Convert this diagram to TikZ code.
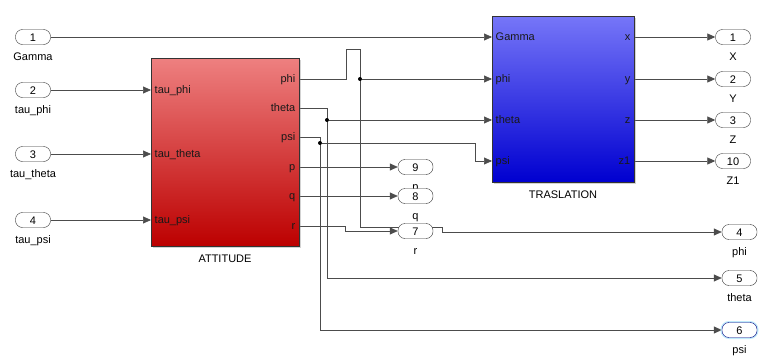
\documentclass[tikz,border=0pt]{standalone}
\usepackage{fontspec}
\setmainfont{Liberation Sans}
\usetikzlibrary{arrows.meta,backgrounds,shadows}
\definecolor{attA}{RGB}{238,128,128}
\definecolor{attB}{RGB}{222,86,86}
\definecolor{attC}{RGB}{188,0,0}
\definecolor{traA}{RGB}{118,118,248}
\definecolor{traB}{RGB}{100,100,248}
\definecolor{traC}{RGB}{0,0,208}
\begin{document}
\begin{tikzpicture}[x=1pt,y=-1pt,font=\fontsize{11}{13}\selectfont,
 port/.style={draw=black!80,fill=white,rounded corners=7pt,minimum width=35pt,minimum height=15pt,inner sep=0,text height=8pt,text depth=0pt},
 sel/.style={preaction={draw=cyan!25,line width=3pt},draw=blue!50!black},
 wire/.style={black!70,line width=0.7pt},
 arr/.style={wire,-{Triangle[length=8pt,width=7pt]}},
 dot/.style={circle,fill=black,inner sep=0,minimum size=4pt},
 blk/.style={draw=black!80,line width=0.8pt,drop shadow={shadow xshift=1.5pt,shadow yshift=-1.5pt,opacity=0.35}},
 ptxt/.style={inner sep=3.5pt,text=black!90,text height=8pt,text depth=1pt},
 every label/.style={inner sep=0,text height=8pt,text depth=2.5pt},
 label distance=7.5pt]
\useasboundingbox (0,0) rectangle (761,356);
% blocks
\node[blk,minimum width=148pt,minimum height=188pt,top color=attA,middle color=attB,bottom color=attC,label=below:ATTITUDE] (att) at (225,152) {};
\node[blk,minimum width=142pt,minimum height=166pt,top color=traA,middle color=traB,bottom color=traC,label=below:TRASLATION] (tra) at (563,99) {};
\foreach \y/\t [count=\i] in {90/tau\_phi,154/tau\_theta,220/tau\_psi} \node[ptxt,anchor=west] (ai\i) at (151,\y) {\t};
\foreach \y/\t [count=\i] in {79/phi,108/theta,137/psi,167/p,196/q,226/r} \node[ptxt,anchor=east] (ao\i) at (299,\y) {\t};
\foreach \y/\t [count=\i] in {37/Gamma,79/phi,120/theta,161/psi} \node[ptxt,anchor=west] (ti\i) at (492,\y) {\t};
\foreach \y/\t [count=\i] in {37/x,79/y,120/z,161/z1} \node[ptxt,anchor=east] (to\i) at (634,\y) {\t};
% ports
\foreach \y/\t [count=\i] in {37/Gamma,90/tau\_phi,154/tau\_theta,220/tau\_psi} \node[port,label=below:\t] (in\i) at (33,\y) {\i};
\foreach \n/\y/\t in {1/37/X,2/79/Y,3/120/Z,10/161/Z1} \node[port,label=below:\t] (out\n) at (733,\y) {\n};
\foreach \n/\y/\t in {9/167/p,8/196/q,7/231/r} \node[port,label=below:\t] (out\n) at (415.5,\y) {\n};
\foreach \n/\y/\t in {4/232/phi,5/278/theta} \node[port,label=below:\t] (out\n) at (739.5,\y) {\n};
\node[port,sel,label=below:psi] (out6) at (739.5,330) {6};
\node[dot] (j1) at (360,79) {};
\node[dot] (j2) at (327,120) {};
\node[dot] (j3) at (320,143) {};
% wires
\begin{scope}[on background layer]
\draw[arr] (in1.east) -- (ti1.west);
\foreach \i/\j in {2/1,3/2,4/3} \draw[arr] (in\i.east) -- (ai\j.west);
\draw[arr] (ao1.east) -- (346,79) |- (360,49) -- (360,227) -| (442,232) -- (out4.west);
\draw[arr] (j1) -- (ti2.west);
\draw[arr] (ao2.east) -| (327,278) -- (out5.west);
\draw[arr] (j2) -- (ti3.west);
\draw[arr] (ao3.east) -| (320,330) -- (out6.west);
\draw[arr] (j3) -| (475,161) -- (ti4.west);
\draw[arr] (ao4.east) -- (out9.west);
\draw[arr] (ao5.east) -- (out8.west);
\draw[arr] (ao6.east) -- (345,226) |- (out7.west);
\foreach \i/\n in {1/1,2/2,3/3,4/10} \draw[arr] (to\i.east) -- (out\n.west);
\end{scope}
\end{tikzpicture}
\end{document}
